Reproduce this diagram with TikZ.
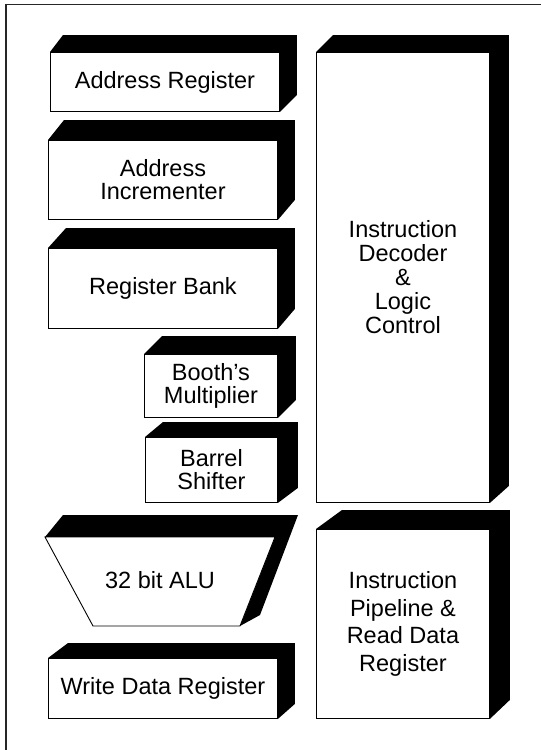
\documentclass[tikz,border=0pt]{standalone}
\usepackage{fontspec}
\setmainfont{Liberation Sans}
\usetikzlibrary{calc,backgrounds}
\tikzset{
  front/.style={draw=black, line width=0.9pt, fill=white, inner sep=0pt, align=center, anchor=north west},
  blk/.style={fill=black},
  frame/.style={draw=black!85, line width=1.5pt}
}
% #1 name, #2 left offset, #3 dx, #4 dy
\newcommand\boxdepth[4]{%
  \fill[blk] (#1.north west) -- ++(#2,-#4) -- ($(#1.north east)+(#3,-#4)$) -- ($(#1.south east)+(#3,-#4)$) -- (#1.south east) -- (#1.north east) -- cycle;}
\newcommand\fs[1]{\fontsize{23.5}{#1}\selectfont}
\begin{document}
\begin{tikzpicture}[x=1pt,y=-1pt]
\useasboundingbox (0,0) rectangle (541,750);
\begin{scope}[on background layer]
  \fill[white] (0,0) rectangle (541,750);
\end{scope}
\draw[frame] (541,4.5) -- (6,4.5) -- (6,750);

% left column
\node[front, minimum width=229pt, minimum height=59pt, font=\fs{22}] (addr) at (50,52) {Address Register};
\node[front, minimum width=229pt, minimum height=79pt, font=\fs{23}] (inc) at (48,140) {Address\\Incrementer};
\node[front, minimum width=229pt, minimum height=80pt, font=\fs{22}] (bank) at (48,248) {Register Bank};
\node[front, minimum width=133pt, minimum height=63pt, font=\fs{22.5}] (booth) at (144,354) {Booth’s\\Multiplier};
\node[front, minimum width=132pt, minimum height=65pt, font=\fs{23}] (barrel) at (145,437) {Barrel\\Shifter};
\node[front, minimum width=229pt, minimum height=60pt, font=\fs{22}] (wdr) at (48,658) {Write Data Register};

% right column
\node[front, minimum width=173pt, minimum height=450pt, font=\fs{24}] (idec) at (316,52) {Instruction\\Decoder\\\&\\Logic\\Control};
\node[front, minimum width=173pt, minimum height=189pt, font=\fs{27.5}] (pipe) at (316,529) {Instruction\\Pipeline \&\\Read Data\\Register};

\begin{scope}[on background layer]
  \boxdepth{addr}{13}{17}{17}
  \boxdepth{inc}{16}{17}{20}
  \boxdepth{bank}{18}{17}{20}
  \boxdepth{booth}{18}{18}{18}
  \boxdepth{barrel}{18}{20}{15}
  \boxdepth{wdr}{20}{17}{15}
  \boxdepth{idec}{17}{19}{17}
  \boxdepth{pipe}{26}{20}{19}
\end{scope}

% ALU trapezoid
\fill[blk] (45,537) -- (63,515) -- (298,515) -- (260,615) -- (240,626) -- (275,537) -- cycle;
\filldraw[fill=white, draw=black, line width=0.9pt, line join=miter] (45,537) -- (275,537) -- (240,626) -- (93,626) -- cycle;
\node[font=\fs{22}, inner sep=0pt] (alu) at (160,580) {32 bit ALU};
\end{tikzpicture}
\end{document}
